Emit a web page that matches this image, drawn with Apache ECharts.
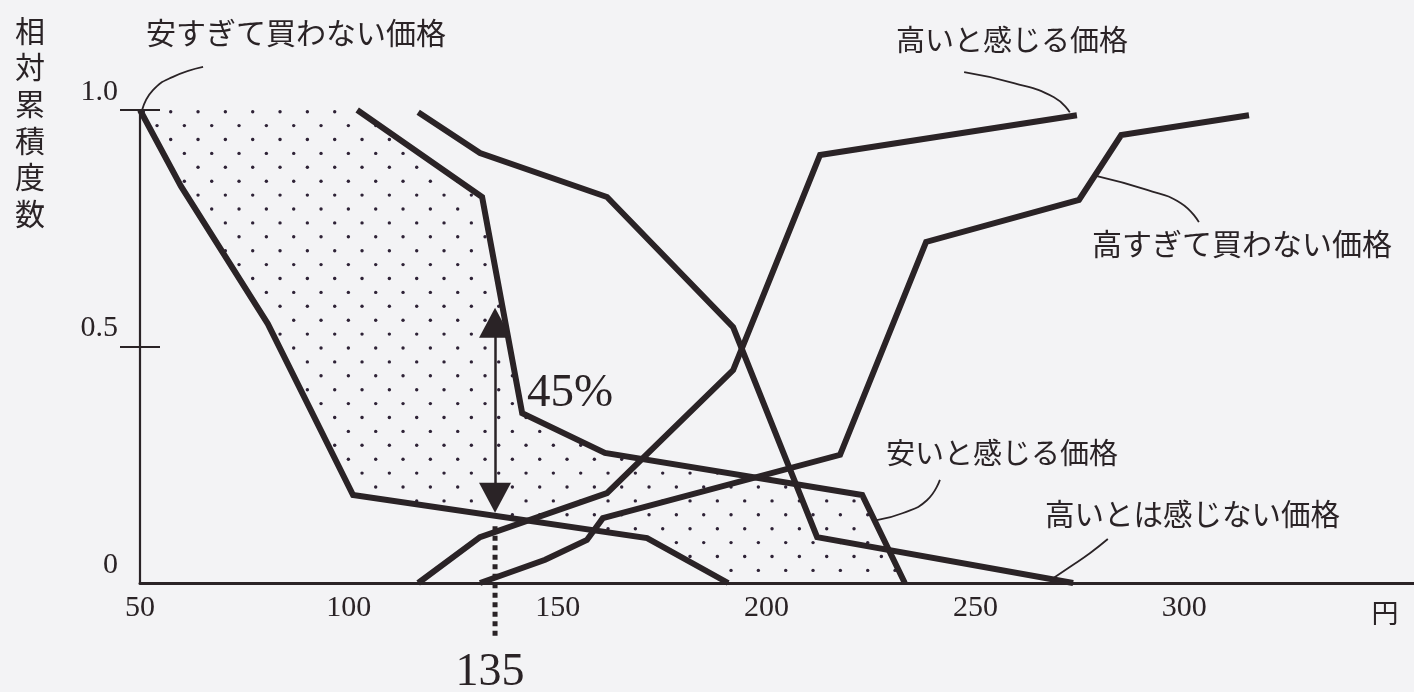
<!DOCTYPE html>
<html>
<head>
<meta charset="utf-8">
<script src="https://cdn.jsdelivr.net/npm/echarts@6/dist/echarts.min.js"></script>
<style>
  html, body { margin: 0; padding: 0; background: #f3f3f5; }
  #chart { width: 1414px; height: 692px; }
</style>
</head>
<body>
<div id="chart"></div>
<script>
// 価格 (円) / 相対累積度数
const xTicks = [50, 100, 150, 200, 250, 300];
const yTicks = [0, 0.5, 1.0];
const yMarks = [0.5, 1.0];

// 安すぎて買わない価格
const tooCheap = [[50, 1.0], [59.8, 0.839], [80.6, 0.548], [101.0, 0.186], [171.4, 0.095], [190.8, 0]];
// 安いと感じる価格
const cheap = [[102.0, 1.0], [131.9, 0.816], [141.5, 0.359], [161.3, 0.275], [222.9, 0.186], [233.1, 0]];
// 高いとは感じない価格
const notExpensive = [[116.6, 0.995], [131.4, 0.909], [161.8, 0.816], [192.0, 0.541], [212.1, 0.097], [273.4, 0]];
// 高いと感じる価格
const expensive = [[116.6, 0], [131.4, 0.097], [161.8, 0.190], [192.0, 0.450], [212.8, 0.905], [274.3, 0.989]];
// 高すぎて買わない価格
const tooExpensive = [[131.4, 0], [147.0, 0.049], [157.0, 0.091], [160.8, 0.137], [217.6, 0.271],
                      [238.2, 0.721], [274.8, 0.810], [284.9, 0.947], [315.5, 0.989]];

// 引き出し線 (ラベル → 曲線)
const leaderTooCheap = [[50.5, 1.0], [53.1, 1.042], [57.9, 1.070], [65.1, 1.091]];
const leaderExpensive = [[247.3, 1.080], [259.2, 1.057], [268.8, 1.027], [272.6, 0.995]];
const leaderTooExpensive = [[279.1, 0.860], [291.1, 0.831], [299.2, 0.803], [303.5, 0.763]];
const leaderCheap = [[241.5, 0.218], [238.4, 0.175], [232.7, 0.148], [226.4, 0.133]];
const leaderNotExpensive = [[281.7, 0.093], [277.4, 0.063], [272.6, 0.034], [267.9, 0.006]];

// 最適価格と幅
const optimumPrice = 135;
const arrowSpan = [0.550, 0.180];
const guideSpan = [0.120, -0.120];

const ink = '#2a2326';
const paper = '#f3f3f5';

// 点描パターン
function makeDots() {
    const w = 82, h = 139;
    const cvs = document.createElement('canvas');
    cvs.width = w;
    cvs.height = h;
    const ctx = cvs.getContext('2d');
    ctx.fillStyle = '#2e2236';
    for (let r = 0; r < 10; r++) {
        for (let c = 0; c < 3; c++) {
            let x = (6.7 + (r % 2) * 13.67 + c * 27.33) % w;
            let y = (111.7 + r * 13.9) % h;
            for (let dx = -w; dx <= w; dx += w) {
                for (let dy = -h; dy <= h; dy += h) {
                    ctx.beginPath();
                    ctx.arc(x + dx, y + dy, 1.7, 0, Math.PI * 2);
                    ctx.fill();
                }
            }
        }
    }
    return cvs;
}

function curve(name, data, extra) {
    return Object.assign({
        name: name,
        type: 'line',
        data: data,
        z: 4,
        symbol: 'none',
        clip: false,
        silent: true,
        itemStyle: { color: ink },
        lineStyle: { color: ink, width: 6, join: 'miter' }
    }, extra || {});
}

function leader(data) {
    return {
        type: 'line',
        data: data,
        z: 4,
        symbol: 'none',
        smooth: 0.5,
        clip: false,
        silent: true,
        lineStyle: { color: ink, width: 1.8 }
    };
}

const labelFont = '"Noto Sans CJK JP", "Noto Sans", sans-serif';
const numFont = '"Liberation Serif", "DejaVu Serif", serif';

function note(text, x, y, size, font, align) {
    return {
        type: 'text',
        x: x,
        y: y,
        z: 10,
        style: {
            text: text,
            fill: ink,
            font: size + 'px ' + (font || labelFont),
            textAlign: align || 'left',
            textVerticalAlign: 'middle'
        }
    };
}

const chart = echarts.init(document.getElementById('chart'));

const option = {
    backgroundColor: paper,
    animation: false,
    grid: { left: 140, right: 0, top: 110, bottom: 109, outerBoundsMode: 'none' },
    xAxis: {
        type: 'value',
        min: 50,
        max: 355,
        z: 3,
        axisLine: { lineStyle: { color: ink, width: 3 } },
        axisTick: { show: false },
        splitLine: { show: false },
        axisLabel: {
            customValues: xTicks,
            margin: 10,
            color: ink,
            fontSize: 30,
            fontFamily: numFont
        }
    },
    yAxis: [{
        type: 'value',
        position: 'left',
        min: 0,
        max: 1,
        z: 3,
        axisLine: { lineStyle: { color: ink, width: 2.2 } },
        axisTick: { customValues: yMarks, length: 20, lineStyle: { color: ink, width: 2 } },
        splitLine: { show: false },
        axisLabel: {
            customValues: yTicks,
            margin: 22,
            color: ink,
            fontSize: 30,
            fontFamily: numFont,
            verticalAlign: 'bottom',
            padding: [0, 0, 3, 0],
            formatter: function (v) { return v === 0 ? '0' : v.toFixed(1); }
        }
    }, {
        type: 'value',
        position: 'left',
        offset: 0,
        min: 0,
        max: 1,
        z: 3,
        axisLine: { show: false },
        axisTick: { inside: true, customValues: yMarks, length: 20, lineStyle: { color: ink, width: 2 } },
        splitLine: { show: false },
        axisLabel: { show: false }
    }],
    graphic: [
        {
            type: 'text',
            x: 30,
            y: 12,
            style: {
                text: '相対累積度数'.split('').join('\n'),
                fill: ink,
                font: '30px ' + labelFont,
                lineHeight: 36.6,
                textAlign: 'center',
                textVerticalAlign: 'top'
            }
        },
        note('安すぎて買わない価格', 146, 33, 30),
        note('高いと感じる価格', 896, 40, 29),
        note('高すぎて買わない価格', 1092, 244, 30),
        note('安いと感じる価格', 886, 453, 29),
        note('高いとは感じない価格', 1045, 514, 29.5),
        note('円', 1385, 613, 27, labelFont, 'center'),
        note('45%', 570, 394, 47, numFont, 'center'),
        note(String(optimumPrice), 490, 673, 46, numFont, 'center')
    ],
    series: [
        {
            type: 'line',
            data: [[50, 1.0]].concat(cheap),
            z: 1,
            symbol: 'none',
            silent: true,
            lineStyle: { width: 0, opacity: 0 },
            areaStyle: { color: { image: makeDots(), repeat: 'repeat' }, opacity: 1 }
        },
        {
            type: 'line',
            data: tooCheap,
            z: 2,
            symbol: 'none',
            silent: true,
            lineStyle: { width: 0, opacity: 0 },
            areaStyle: { color: paper, opacity: 1 }
        },
        curve('安すぎて買わない価格', tooCheap, {
            markLine: {
                silent: true,
                animation: false,
                symbol: 'none',
                label: { show: false },
                data: [
                    [
                        { coord: [optimumPrice, arrowSpan[0]], symbol: 'triangle', symbolSize: [32, 30],
                          lineStyle: { color: ink, width: 2.5, type: 'solid' } },
                        { coord: [optimumPrice, arrowSpan[1]], symbol: 'triangle', symbolSize: [32, 30] }
                    ]
                ]
            }
        }),
        curve('安いと感じる価格', cheap),
        curve('高いとは感じない価格', notExpensive),
        curve('高いと感じる価格', expensive),
        curve('高すぎて買わない価格', tooExpensive),
        {
            type: 'line',
            data: [[optimumPrice, guideSpan[0]], [optimumPrice, guideSpan[1]]],
            z: 4,
            symbol: 'none',
            clip: false,
            silent: true,
            lineStyle: { color: ink, width: 5, type: [5, 4.5], cap: 'butt' }
        },
        leader(leaderTooCheap),
        leader(leaderExpensive),
        leader(leaderTooExpensive),
        leader(leaderCheap),
        leader(leaderNotExpensive)
    ]
};

chart.setOption(option);
</script>
</body>
</html>
